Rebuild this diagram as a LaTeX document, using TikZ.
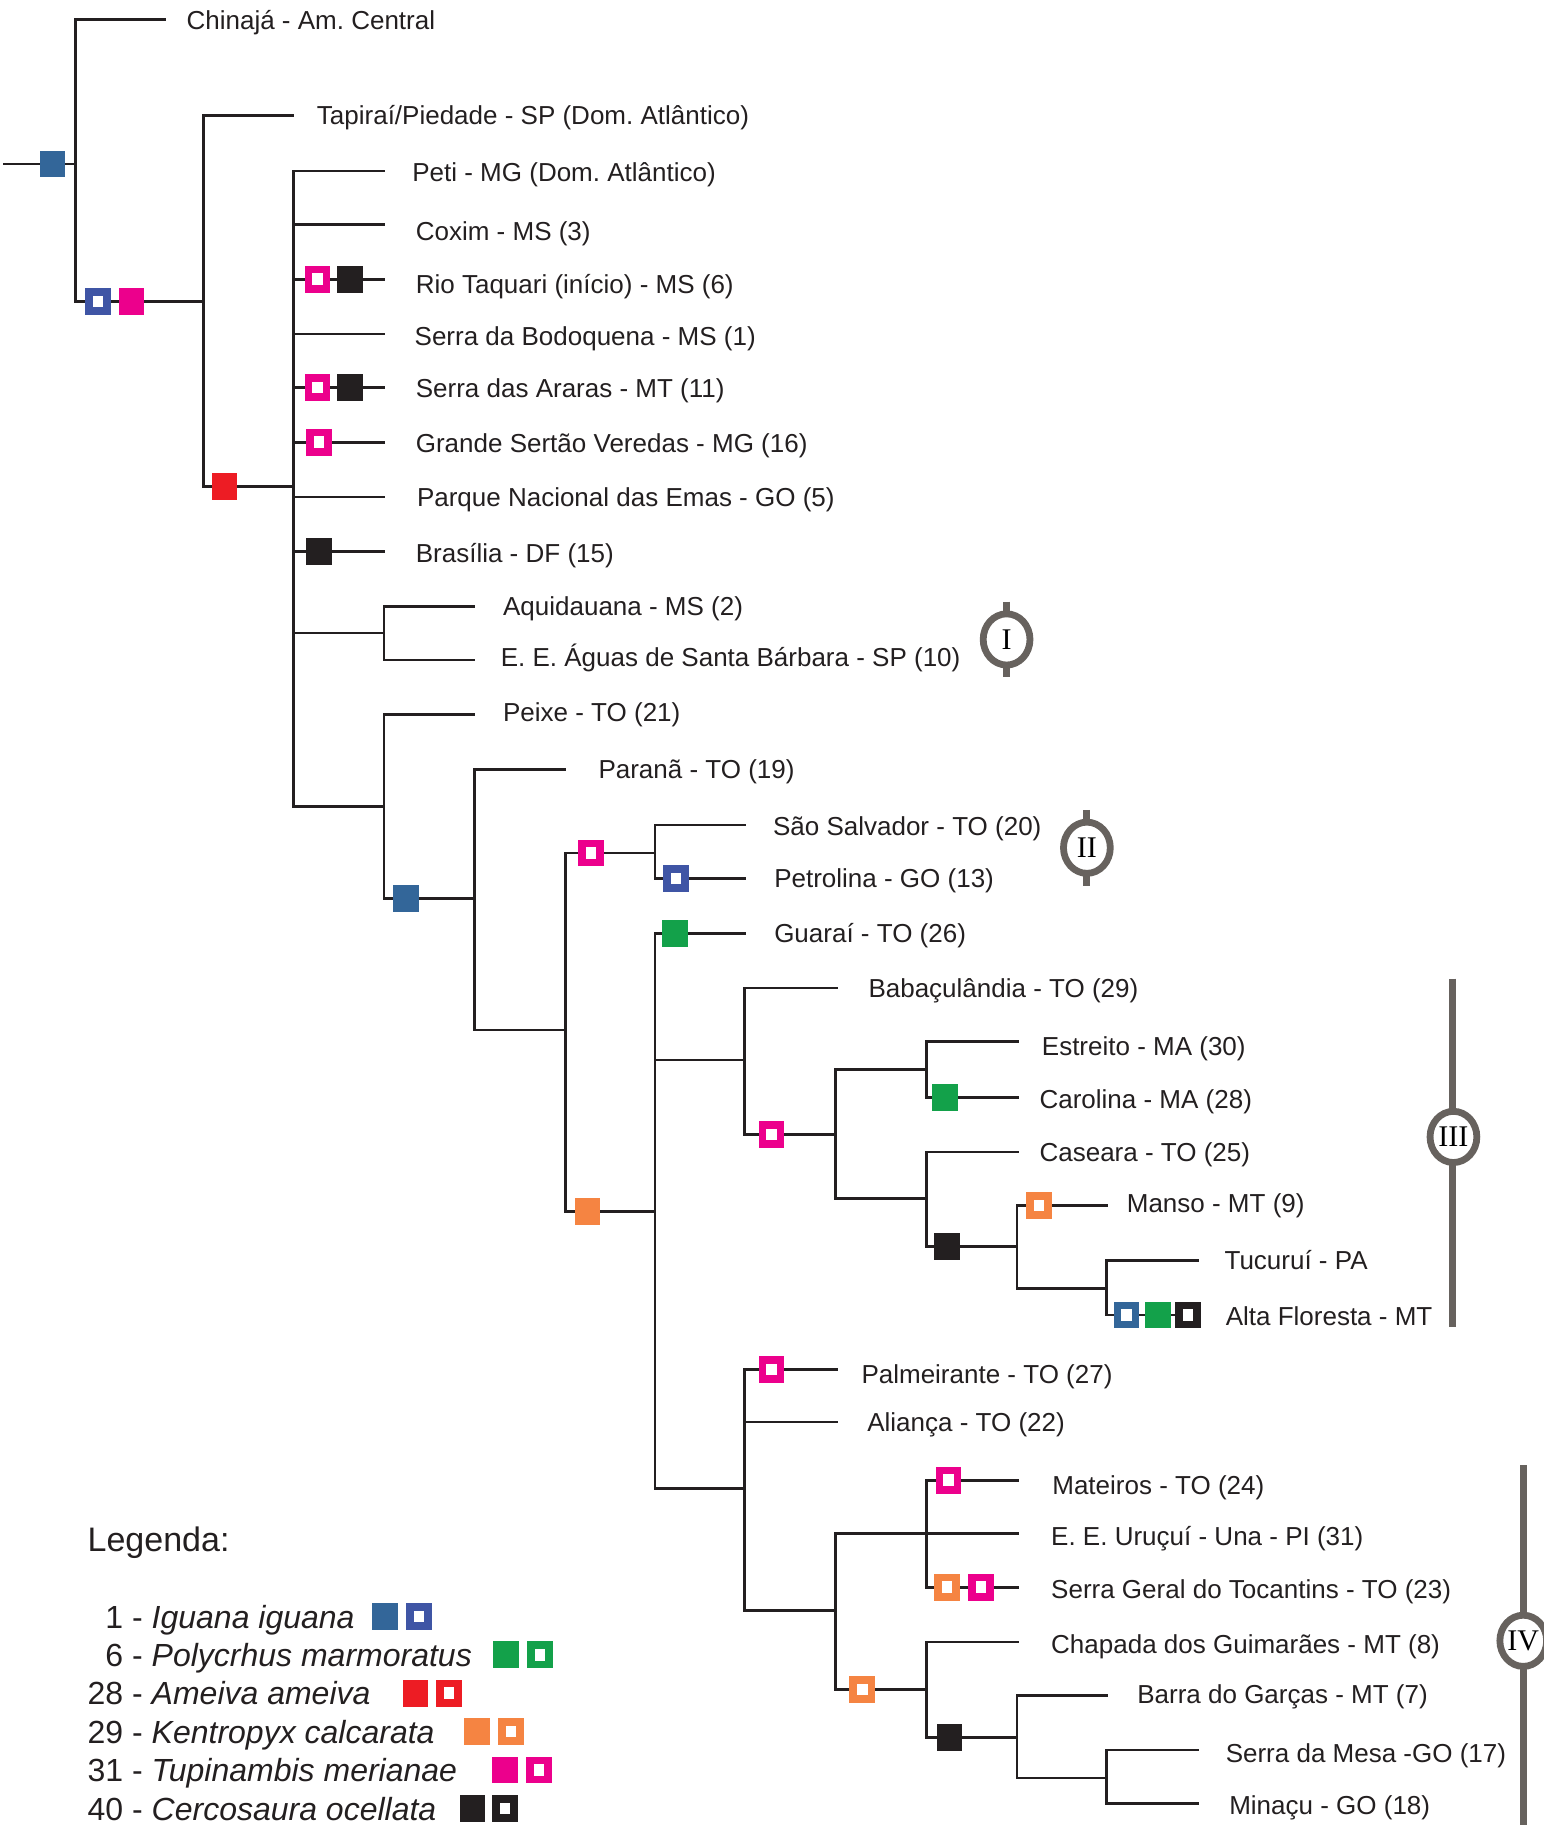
\documentclass[tikz,border=0pt]{standalone}
\usepackage{fontspec}
\setmainfont{Liberation Sans}
\newfontfamily\romfont{Liberation Serif}
\usetikzlibrary{shapes.geometric}
\frenchspacing
\definecolor{cblue}{HTML}{336699}
\definecolor{cblueo}{HTML}{3F55A5}
\definecolor{cgreen}{HTML}{13A14A}
\definecolor{cred}{HTML}{ED1C24}
\definecolor{corange}{HTML}{F58442}
\definecolor{cpink}{HTML}{EC008C}
\definecolor{cblack}{HTML}{231F20}
\definecolor{cgray}{HTML}{67625E}
\tikzset{
  br/.style={line width=1.3pt, draw=cblack},
  sqf/.style={fill=#1, draw=none, minimum width=12.8pt, minimum height=13.4pt, inner sep=0pt, rectangle},
  sqo/.style={fill=white, draw=#1, line width=3.8pt, minimum width=9pt, minimum height=9.6pt, inner sep=0pt, rectangle},
  lbl/.style={anchor=base west, inner sep=0pt, font=\fontsize{13}{15}\selectfont, text=cblack},
  legt/.style={anchor=base west, inner sep=0pt, font=\fontsize{16}{19}\selectfont, text=cblack},
  tick/.style={draw=cgray, line width=3.6pt},
  ring/.style={ellipse, draw=cgray, line width=3.4pt, fill=white, minimum width=23.4pt, minimum height=25.6pt, inner sep=0pt, font=\romfont\fontsize{15}{15}\selectfont, text=black}
}
\begin{document}
\begin{tikzpicture}[x=0.5818pt, y=-0.5818pt]
\useasboundingbox (0,0) rectangle (1326,1568.3);
% ---------- internal nodes ----------
\coordinate (r0) at (3,141);
\coordinate (n0) at (65,141);
\coordinate (n1) at (175,259);
\coordinate (n2) at (252,418);
\coordinate (n3) at (330,544);
\coordinate (n4) at (330,693);
\coordinate (n5) at (408,772);
\coordinate (n6) at (486,885);
\coordinate (n7) at (563,733);
\coordinate (n8) at (563,1041);
\coordinate (n9) at (640,911);
\coordinate (n10) at (718,975);
\coordinate (n11) at (796,919);
\coordinate (n12) at (796,1030);
\coordinate (n13) at (874,1071);
\coordinate (n13b) at (951,1107);
\coordinate (n14) at (640,1279);
\coordinate (n15) at (718,1384);
\coordinate (n16) at (796,1318);
\coordinate (n17) at (796,1452);
\coordinate (n18) at (874,1493);
\coordinate (n19) at (951,1528);
% ---------- leaf ends ----------
\coordinate (eChin) at (143,17);
\coordinate (eTap) at (253,99);
\coordinate (ePeti) at (331,147);
\coordinate (eCox) at (331,193);
\coordinate (eTaq) at (331,240);
\coordinate (eBod) at (331,287);
\coordinate (eAra) at (331,333);
\coordinate (eGra) at (331,380);
\coordinate (ePar) at (331,427);
\coordinate (eBra) at (331,474);
\coordinate (eAqu) at (408,521);
\coordinate (eAgu) at (408,567);
\coordinate (ePei) at (408,614);
\coordinate (ePrn) at (486,661);
\coordinate (eSao) at (641,709);
\coordinate (ePet) at (641,755);
\coordinate (eGua) at (641,802);
\coordinate (eBab) at (720,849);
\coordinate (eEst) at (876,895);
\coordinate (eCar) at (876,943);
\coordinate (eCas) at (876,990);
\coordinate (eMan) at (952,1036);
\coordinate (eTuc) at (1030,1083);
\coordinate (eAlt) at (1030,1130);
\coordinate (ePal) at (720,1177);
\coordinate (eAli) at (720,1222);
\coordinate (eMat) at (876,1272);
\coordinate (eUru) at (876,1318);
\coordinate (eSGe) at (876,1364);
\coordinate (eCha) at (876,1411);
\coordinate (eBar) at (952,1457);
\coordinate (eSMe) at (1030,1504);
\coordinate (eMin) at (1030,1550);
% ---------- branches ----------
\draw[br] (r0) -- (n0);
\draw[br] (n0) |- (eChin);
\draw[br] (n0) |- (n1);
\draw[br] (n1) |- (eTap);
\draw[br] (n1) |- (n2);
\foreach \c in {ePeti,eCox,eTaq,eBod,eAra,eGra,ePar,eBra,n3,n4}{\draw[br] (n2) |- (\c);}
\draw[br] (n3) |- (eAqu);
\draw[br] (n3) |- (eAgu);
\draw[br] (n4) |- (ePei);
\draw[br] (n4) |- (n5);
\draw[br] (n5) |- (ePrn);
\draw[br] (n5) |- (n6);
\draw[br] (n6) |- (n7);
\draw[br] (n6) |- (n8);
\draw[br] (n7) |- (eSao);
\draw[br] (n7) |- (ePet);
\draw[br] (n8) |- (eGua);
\draw[br] (n8) |- (n9);
\draw[br] (n8) |- (n14);
\draw[br] (n9) |- (eBab);
\draw[br] (n9) |- (n10);
\draw[br] (n10) |- (n11);
\draw[br] (n10) |- (n12);
\draw[br] (n11) |- (eEst);
\draw[br] (n11) |- (eCar);
\draw[br] (n12) |- (eCas);
\draw[br] (n12) |- (n13);
\draw[br] (n13) |- (eMan);
\draw[br] (n13) |- (n13b);
\draw[br] (n13b) |- (eTuc);
\draw[br] (n13b) |- (eAlt);
\draw[br] (n14) |- (ePal);
\draw[br] (n14) |- (eAli);
\draw[br] (n14) |- (n15);
\draw[br] (n15) |- (n16);
\draw[br] (n15) |- (n17);
\draw[br] (n16) |- (eMat);
\draw[br] (n16) |- (eUru);
\draw[br] (n16) |- (eSGe);
\draw[br] (n17) |- (eCha);
\draw[br] (n17) |- (n18);
\draw[br] (n18) |- (eBar);
\draw[br] (n18) |- (n19);
\draw[br] (n19) |- (eSMe);
\draw[br] (n19) |- (eMin);
% ---------- character squares ----------
\node[sqf=cblue] (s1) at (45,141) {};
\node[sqo=cblueo] (s2) at (84,259) {};
\node[sqf=cpink] (s3) at (113,259) {};
\node[sqf=cred] (s4) at (193,418) {};
\node[sqo=cpink] (s5) at (273,240) {};
\node[sqf=cblack] (s6) at (301,240) {};
\node[sqo=cpink] (s7) at (273,333) {};
\node[sqf=cblack] (s8) at (301,333) {};
\node[sqo=cpink] (s9) at (274,380) {};
\node[sqf=cblack] (s10) at (274,474) {};
\node[sqf=cblue] (s11) at (349,772) {};
\node[sqo=cpink] (s12) at (508,733) {};
\node[sqo=cblueo] (s13) at (581,755) {};
\node[sqf=corange] (s14) at (505,1041) {};
\node[sqf=cgreen] (s15) at (580,802) {};
\node[sqo=cpink] (s16) at (663,975) {};
\node[sqf=cgreen] (s17) at (812,943) {};
\node[sqf=cblack] (s18) at (814,1071) {};
\node[sqo=corange] (s19) at (893,1036) {};
\node[sqo=cblue] (s20) at (968,1130) {};
\node[sqf=cgreen] (s21) at (995,1130) {};
\node[sqo=cblack] (s22) at (1021,1130) {};
\node[sqo=cpink] (s23) at (663,1177) {};
\node[sqo=cpink] (s24) at (815,1272) {};
\node[sqo=corange] (s25) at (814,1364) {};
\node[sqo=cpink] (s26) at (843,1364) {};
\node[sqo=corange] (s27) at (741,1452) {};
\node[sqf=cblack] (s28) at (816,1493) {};
% ---------- labels (baseline = centre + 8) ----------
\node[lbl] (tChin) at (160,25) {Chinajá - Am. Central};
\node[lbl] (tTap) at (272,107) {Tapiraí/Piedade - SP (Dom. Atlântico)};
\node[lbl] (tPeti) at (354,156) {Peti - MG (Dom. Atlântico)};
\node[lbl] (tCox) at (357,207) {Coxim - MS (3)};
\node[lbl] (tTaq) at (357,252) {Rio Taquari (início) - MS (6)};
\node[lbl] (tBod) at (356,297) {Serra da Bodoquena - MS (1)};
\node[lbl] (tAra) at (357,342) {Serra das Araras - MT (11)};
\node[lbl] (tGra) at (357,389) {Grande Sertão Veredas - MG (16)};
\node[lbl] (tPar) at (358,435) {Parque Nacional das Emas - GO (5)};
\node[lbl] (tBra) at (357,483) {Brasília - DF (15)};
\node[lbl] (tAqu) at (432,529) {Aquidauana - MS (2)};
\node[lbl] (tAgu) at (430,573) {E. E. Águas de Santa Bárbara - SP (10)};
\node[lbl] (tPei) at (432,620) {Peixe - TO (21)};
\node[lbl] (tPrn) at (514,669) {Paranã - TO (19)};
\node[lbl] (tSao) at (664,718) {São Salvador - TO (20)};
\node[lbl] (tPet) at (665,763) {Petrolina - GO (13)};
\node[lbl] (tGua) at (665,810) {Guaraí - TO (26)};
\node[lbl] (tBab) at (746,857) {Babaçulândia - TO (29)};
\node[lbl] (tEst) at (895,907) {Estreito - MA (30)};
\node[lbl] (tCar) at (893,953) {Carolina - MA (28)};
\node[lbl] (tCas) at (893,998) {Caseara - TO (25)};
\node[lbl] (tMan) at (968,1042) {Manso - MT (9)};
\node[lbl] (tTuc) at (1052,1091) {Tucuruí - PA};
\node[lbl] (tAlt) at (1053,1139) {Alta Floresta - MT};
\node[lbl] (tPal) at (740,1189) {Palmeirante - TO (27)};
\node[lbl] (tAli) at (745,1230) {Aliança - TO (22)};
\node[lbl] (tMat) at (904,1284) {Mateiros - TO (24)};
\node[lbl] (tUru) at (903,1328) {E. E. Uruçuí - Una - PI (31)};
\node[lbl] (tSGe) at (903,1374) {Serra Geral do Tocantins - TO (23)};
\node[lbl] (tCha) at (903,1421) {Chapada dos Guimarães - MT (8)};
\node[lbl] (tBar) at (977,1464) {Barra do Garças - MT (7)};
\node[lbl] (tSMe) at (1053,1515) {Serra da Mesa -GO (17)};
\node[lbl] (tMin) at (1056,1559) {Minaçu - GO (18)};
% ---------- clade markers ----------
\coordinate (Itop) at (865,517); \coordinate (Ibot) at (865,582);
\draw[tick] (Itop) -- (Ibot);
\node[ring] (cI) at (865,549.5) {I};
\coordinate (IItop) at (934,696); \coordinate (IIbot) at (934,761);
\draw[tick] (IItop) -- (IIbot);
\node[ring] (cII) at (934,728.5) {II};
\coordinate (IIItop) at (1248,841); \coordinate (IIIbot) at (1248,1140);
\draw[tick] (IIItop) -- (IIIbot);
\node[ring] (cIII) at (1249,977) {III};
\coordinate (IVtop) at (1309,1259); \coordinate (IVbot) at (1309,1570);
\draw[tick] (IVtop) -- (IVbot);
\node[ring] (cIV) at (1309,1410) {IV};
% ---------- legend ----------
\node[anchor=base west, inner sep=0pt, font=\fontsize{17}{20}\selectfont, text=cblack] (leg) at (75,1333.5) {Legenda:};
\node[legt] (g1) at (75,1399) {\makebox[1.112em][r]{1} - \textit{Iguana iguana}};
\node[legt] (g2) at (75,1432) {\makebox[1.112em][r]{6} - \textit{Polycrhus marmoratus}};
\node[legt] (g3) at (75,1465) {28 - \textit{Ameiva ameiva}};
\node[legt] (g4) at (75,1498) {29 - \textit{Kentropyx calcarata}};
\node[legt] (g5) at (75,1531) {31 - \textit{Tupinambis merianae}};
\node[legt] (g6) at (75,1564) {40 - \textit{Cercosaura ocellata}};
\node[sqf=cblue] (k1a) at (331,1389) {};
\node[sqo=cblueo] (k1b) at (360,1389) {};
\node[sqf=cgreen] (k2a) at (435,1422) {};
\node[sqo=cgreen] (k2b) at (464,1422) {};
\node[sqf=cred] (k3a) at (357,1455) {};
\node[sqo=cred] (k3b) at (386,1455) {};
\node[sqf=corange] (k4a) at (410,1488) {};
\node[sqo=corange] (k4b) at (439,1488) {};
\node[sqf=cpink] (k5a) at (434,1521) {};
\node[sqo=cpink] (k5b) at (463,1521) {};
\node[sqf=cblack] (k6a) at (406,1554) {};
\node[sqo=cblack] (k6b) at (434,1554) {};
\end{tikzpicture}
\end{document}
